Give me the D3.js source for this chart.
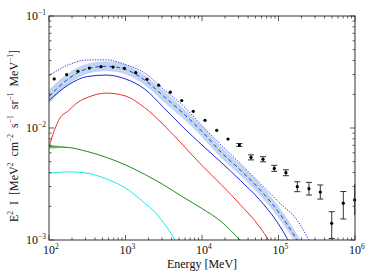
<!DOCTYPE html>
<html>
<head>
<meta charset="utf-8">
<script src="https://d3js.org/d3.v7.min.js"></script>
<style>
  body { margin: 0; background: white; }
  text { font-family: "Liberation Serif", "DejaVu Serif", serif; fill: #111; }
</style>
</head>
<body>
<script>
  // curve energies (MeV), common grid
  var gridE = [100, 178, 316, 562, 1000, 1778, 3162, 5623, 10000, 17783, 31623, 56234, 100000, 177828, 316228];

  // model curves, E^2 I values
  var dottedV = [0.0294, 0.0365, 0.0405, 0.0406, 0.0369, 0.0310, 0.0221, 0.0159, 0.0105, 0.00705, 0.00482, 0.00325, 0.00219, 0.00148, 0.000719];
  var dashedV = [0.0191, 0.0274, 0.0338, 0.0356, 0.0334, 0.0268, 0.0192, 0.0136, 0.00931, 0.00607, 0.00422, 0.00285, 0.00178, 0.00098, 0.000487];
  var bandHi  = [0.0220, 0.0309, 0.0374, 0.0394, 0.0369, 0.0297, 0.0215, 0.0152, 0.0104, 0.00680, 0.00472, 0.00319, 0.00200, 0.00110, 0.000545];
  var bandLo  = [0.0166, 0.0243, 0.0305, 0.0322, 0.0302, 0.0242, 0.0171, 0.0122, 0.00832, 0.00542, 0.00377, 0.00254, 0.00158, 0.000875, 0.000435];
  var blueV   = [0.0176, 0.0242, 0.0288, 0.0297, 0.0274, 0.0223, 0.0152, 0.0102, 0.00705, 0.00494, 0.00341, 0.00230, 0.00139, 0.000690];

  var redE = [100, 118, 139, 178, 242, 316, 562, 1000, 1778, 3162, 5623, 10000, 17783, 31623, 56234, 100000];
  var redV = [0.00681, 0.00959, 0.01227, 0.0142, 0.0171, 0.0187, 0.0205, 0.0193, 0.0152, 0.01064, 0.00705, 0.00462, 0.00313, 0.00207, 0.00132, 0.000719];

  var greenE = [100, 178, 316, 562, 1000, 1778, 3162, 5623, 10000, 17783, 31623, 56234];
  var greenV = [0.00681, 0.00670, 0.00617, 0.00547, 0.00468, 0.00386, 0.00310, 0.00242, 0.00191, 0.00146, 0.000990, 0.000624];
  var greenBandE  = [100, 120, 145, 178];
  var greenBandHi = [0.00712, 0.00700, 0.00686, 0.00672];
  var greenBandLo = [0.00650, 0.00657, 0.00665, 0.00668];

  var cyanE = [100, 178, 316, 562, 1000, 1778, 2371, 3162, 4217, 5623];
  var cyanV = [0.00394, 0.00406, 0.00395, 0.00351, 0.00291, 0.00214, 0.00180, 0.00142, 0.00106, 0.000735];

  // measured points with error bounds
  var dataE = [117, 170, 239, 336, 478, 687, 965, 1360, 1910, 2716, 3852, 5430, 7690, 10940, 15560, 21880, 30760,
               43700, 62700, 88100, 125000, 176000, 250000, 352000, 496000, 703000, 990000];
  var dataV = [0.0274, 0.0299, 0.0321, 0.0343, 0.0353, 0.0350, 0.0341, 0.0312, 0.0272, 0.0241, 0.0209, 0.0176, 0.0141,
               0.0117, 0.00953, 0.00798, 0.00705, 0.00547, 0.00526, 0.00436, 0.00399, 0.00299, 0.00287, 0.00268,
               0.00141, 0.00213, 0.00228];
  var dataLo = [0.0274, 0.0299, 0.0321, 0.0343, 0.0353, 0.0350, 0.0341, 0.0312, 0.0272, 0.0241, 0.0209, 0.0176, 0.0141,
               0.0117, 0.00953, 0.00798, 0.00684, 0.00519, 0.00499, 0.00410, 0.00375, 0.00270, 0.00252, 0.00232,
               0.00103, 0.00154, 0.00167];
  var dataHi = [0.0274, 0.0299, 0.0321, 0.0343, 0.0353, 0.0350, 0.0341, 0.0312, 0.0272, 0.0241, 0.0209, 0.0176, 0.0141,
               0.0117, 0.00953, 0.00798, 0.00727, 0.00576, 0.00554, 0.00464, 0.00424, 0.00331, 0.00327, 0.00310,
               0.00179, 0.00271, 0.00315];

  var xTicks = [2, 3, 4, 5, 6];      // exponents of 10
  var yTicks = [-1, -2, -3];

  var width = 374, height = 280;
  // plot box (note: "top" is reserved on window, so use m-prefix)
  var mleft = 49, mright = 355, mtop = 16, mbottom = 240;

  var svg = d3.select("body").append("svg")
    .attr("width", width)
    .attr("height", height);

  var x = d3.scaleLog().domain([1e2, 1e6]).range([mleft, mright]);
  var y = d3.scaleLog().domain([1e-3, 1e-1]).range([mbottom, mtop]);

  svg.append("clipPath").attr("id", "plotclip")
    .append("rect")
    .attr("x", mleft).attr("y", mtop)
    .attr("width", mright - mleft).attr("height", mbottom - mtop);

  var plot = svg.append("g").attr("clip-path", "url(#plotclip)");

  function zipped(es, vs) {
    return es.map(function(e, i) { return [e, vs[i]]; });
  }

  var line = d3.line()
    .x(function(d) { return x(d[0]); })
    .y(function(d) { return y(d[1]); })
    .curve(d3.curveMonotoneX);

  var area = d3.area()
    .x(function(d) { return x(d.e); })
    .y0(function(d) { return y(d.lo); })
    .y1(function(d) { return y(d.hi); })
    .curve(d3.curveMonotoneX);

  // shaded band around the dashed curve
  plot.append("path")
    .datum(gridE.map(function(e, i) { return {e: e, lo: bandLo[i], hi: bandHi[i]}; }))
    .attr("d", area)
    .style("fill", "#c1d6ef");

  // small band at start of green curve
  plot.append("path")
    .datum(greenBandE.map(function(e, i) { return {e: e, lo: greenBandLo[i], hi: greenBandHi[i]}; }))
    .attr("d", area)
    .style("fill", "#9fd39f");

  var curves = [
    {e: cyanE, v: cyanV, color: "#18e8ee", dash: null},
    {e: greenE, v: greenV, color: "#1e8c1e", dash: null},
    {e: redE, v: redV, color: "#f03030", dash: null},
    {e: gridE.slice(0, blueV.length), v: blueV, color: "#2222e6", dash: null},
    {e: gridE, v: dashedV, color: "#2a3ad8", dash: "4,3"},
    {e: gridE, v: dottedV, color: "#3838f0", dash: "1.3,1.3"}
  ];

  curves.forEach(function(c) {
    plot.append("path")
      .datum(zipped(c.e, c.v))
      .attr("d", line)
      .attr("fill", "none")
      .attr("stroke", c.color)
      .attr("stroke-width", 1)
      .attr("stroke-dasharray", c.dash);
  });

  // error bars
  var pts = dataE.map(function(e, i) { return {e: e, v: dataV[i], lo: dataLo[i], hi: dataHi[i]}; });
  var bars = pts.filter(function(d) { return y(d.lo) - y(d.hi) > 2; });
  var capw = 3;
  var eb = svg.append("g").attr("stroke", "#333").attr("stroke-width", 1);
  bars.forEach(function(d) {
    var cx = x(d.e);
    eb.append("line").attr("x1", cx).attr("x2", cx).attr("y1", y(d.lo)).attr("y2", y(d.hi));
    if (cx + capw < mright + 1) {
      eb.append("line").attr("x1", cx - capw).attr("x2", cx + capw).attr("y1", y(d.lo)).attr("y2", y(d.lo));
      eb.append("line").attr("x1", cx - capw).attr("x2", cx + capw).attr("y1", y(d.hi)).attr("y2", y(d.hi));
    }
  });

  svg.append("g").selectAll("circle")
    .data(pts)
    .enter().append("circle")
    .attr("cx", function(d) { return x(d.e); })
    .attr("cy", function(d) { return y(d.v); })
    .attr("r", 1.6)
    .style("fill", "#000");

  // frame
  svg.append("rect")
    .attr("x", mleft).attr("y", mtop)
    .attr("width", mright - mleft).attr("height", mbottom - mtop)
    .attr("fill", "none")
    .attr("stroke", "#333")
    .attr("stroke-width", 1);

  // ticks inside all four sides
  var tk = svg.append("g").attr("stroke", "#333").attr("stroke-width", 0.8);
  function isMajor(t) { return Math.abs(Math.log10(t) - Math.round(Math.log10(t))) < 1e-9; }
  x.ticks().forEach(function(t) {
    var len = isMajor(t) ? 5 : 2.5;
    var px = x(t);
    tk.append("line").attr("x1", px).attr("x2", px).attr("y1", mbottom).attr("y2", mbottom - len);
    tk.append("line").attr("x1", px).attr("x2", px).attr("y1", mtop).attr("y2", mtop + len);
  });
  y.ticks().forEach(function(t) {
    var len = isMajor(t) ? 5 : 2.5;
    var py = y(t);
    tk.append("line").attr("x1", mleft).attr("x2", mleft + len).attr("y1", py).attr("y2", py);
    tk.append("line").attr("x1", mright).attr("x2", mright - len).attr("y1", py).attr("y2", py);
  });

  // tick labels
  xTicks.forEach(function(p) {
    var t = svg.append("text")
      .attr("x", x(Math.pow(10, p)) - 6)
      .attr("y", 254)
      .style("font-size", "12px");
    t.append("tspan").text("10");
    t.append("tspan").attr("dy", -5).style("font-size", "7.5px").text(p);
  });
  yTicks.forEach(function(p) {
    var t = svg.append("text")
      .attr("x", 26)
      .attr("y", y(Math.pow(10, p)) + 4)
      .style("font-size", "12px");
    t.append("tspan").text("10");
    t.append("tspan").attr("dy", -5).style("font-size", "7.5px").text("\u2212" + (-p));
  });

  // axis titles
  svg.append("text")
    .attr("x", 202)
    .attr("y", 268)
    .attr("text-anchor", "middle")
    .style("font-size", "12px")
    .text("Energy [MeV]");

  var yt = svg.append("text")
    .attr("transform", "translate(18,136) rotate(-90)")
    .attr("text-anchor", "middle")
    .attr("xml:space", "preserve")
    .style("font-size", "12px");
  var parts = [["E", "2"], ["  I  [MeV", "2"], ["  cm", "\u22122"], ["  s", "\u22121"], ["  sr", "\u22121"], ["  MeV", "\u22121"], ["]", null]];
  var shift = 0;
  parts.forEach(function(p) {
    yt.append("tspan").attr("dy", -shift).text(p[0]);
    shift = 0;
    if (p[1] != null) {
      yt.append("tspan").attr("dy", -5).style("font-size", "7.5px").text(p[1]);
      shift = -5;
    }
  });
</script>
</body>
</html>
